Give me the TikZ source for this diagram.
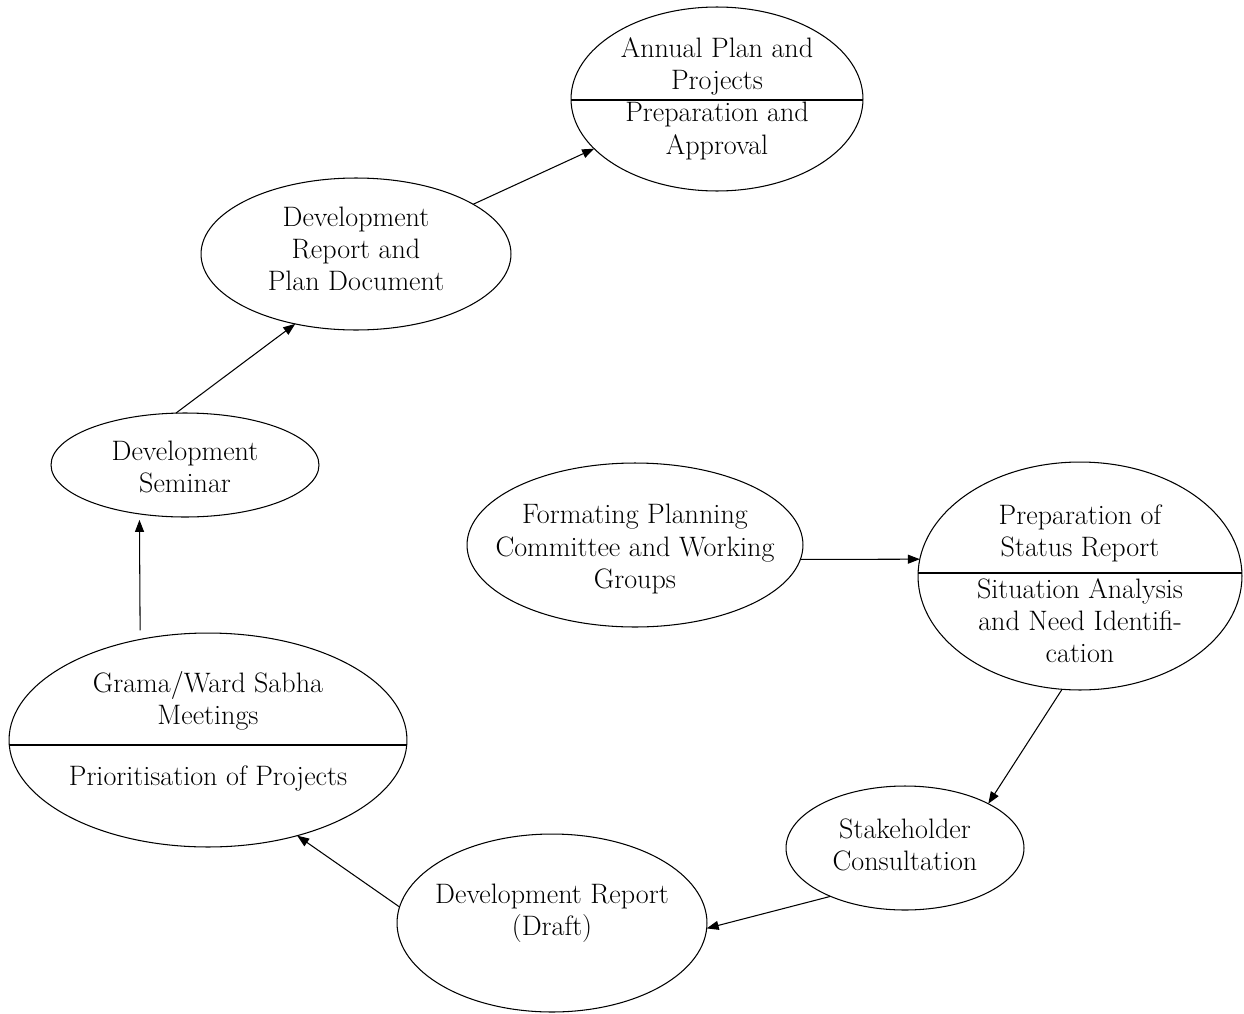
\documentclass[tikz,border=0pt]{standalone}
\usetikzlibrary{shapes.geometric,arrows.meta}
\begin{document}
\begin{tikzpicture}[x=0.02cm,y=-0.02cm,
  ell/.style={draw, ellipse, inner sep=0pt, outer sep=0pt, line width=0.6pt},
  txt/.style={align=center, font=\fontsize{16}{18.3}\selectfont, inner sep=0pt},
  divider/.style={line width=0.6pt},
  conn/.style={line width=0.6pt, -{Triangle[length=0.24cm,width=0.18cm]}}]
\useasboundingbox (0,0) rectangle (1244,1014);
% ellipses
\node[ell, minimum width=5.84cm, minimum height=3.68cm] (ann) at (717,99) {};
\node[ell, minimum width=6.2cm, minimum height=3.04cm] (dev) at (356,254) {};
\node[ell, minimum width=5.36cm, minimum height=2.08cm] (sem) at (185,465) {};
\node[ell, minimum width=6.72cm, minimum height=3.28cm] (form) at (635,545) {};
\node[ell, minimum width=6.48cm, minimum height=4.56cm] (stat) at (1080,576) {};
\node[ell, minimum width=7.96cm, minimum height=4.28cm] (grama) at (208,740) {};
\node[ell, minimum width=4.76cm, minimum height=2.48cm] (stake) at (905,848) {};
\node[ell, minimum width=6.2cm, minimum height=3.56cm] (draft) at (552,923) {};
% dividers
\draw[divider] ([yshift=-0.02cm]ann.west) -- ([yshift=-0.02cm]ann.east);
\draw[divider] ([yshift=0.06cm]stat.west) -- ([yshift=0.06cm]stat.east);
\draw[divider] ([yshift=-0.1cm]grama.west) -- ([yshift=-0.1cm]grama.east);
% texts
\node[txt] (annT) at (717,66) {Annual Plan and\\Projects};
\node[txt] (annB) at (717,131) {Preparation and\\Approval};
\node[txt] (devT) at (356,249) {Development\\Report and\\Plan Document};
\node[txt] (semT) at (185,467) {Development\\Seminar};
\node[txt] (formT) at (635,549) {Formating Planning\\Committee and Working\\Groups};
\node[txt] (statT) at (1080,533) {Preparation of\\Status Report};
\node[txt] (statB) at (1080,621) {Situation Analysis\\and Need Identifi-\\cation};
\node[txt] (gramaT) at (208,701) {Grama/Ward Sabha\\Meetings};
\node[txt] (gramaB) at (208,778) {Prioritisation of Projects};
\node[txt] (stakeT) at (905,845) {Stakeholder\\Consultation};
\node[txt] (draftT) at (552,913) {Development Report\\(Draft)};
% connectors
\draw[conn] (form.-5.1) -- (stat.174.4);
\draw[conn] (stat.261.2) -- (stake.28.9);
\draw[conn] (stake.213.7) -- (draft.-2.6);
\draw[conn] (draft.174.4) -- (grama.-47.2);
\draw[conn, shorten <=0.18cm, shorten >=0.12cm] (grama.124.1) -- (sem.227.4);
\draw[conn] (sem.100.5) -- (dev.229.7);
\draw[conn] (dev.23.9) -- (ann.202.8);
\end{tikzpicture}
\end{document}
